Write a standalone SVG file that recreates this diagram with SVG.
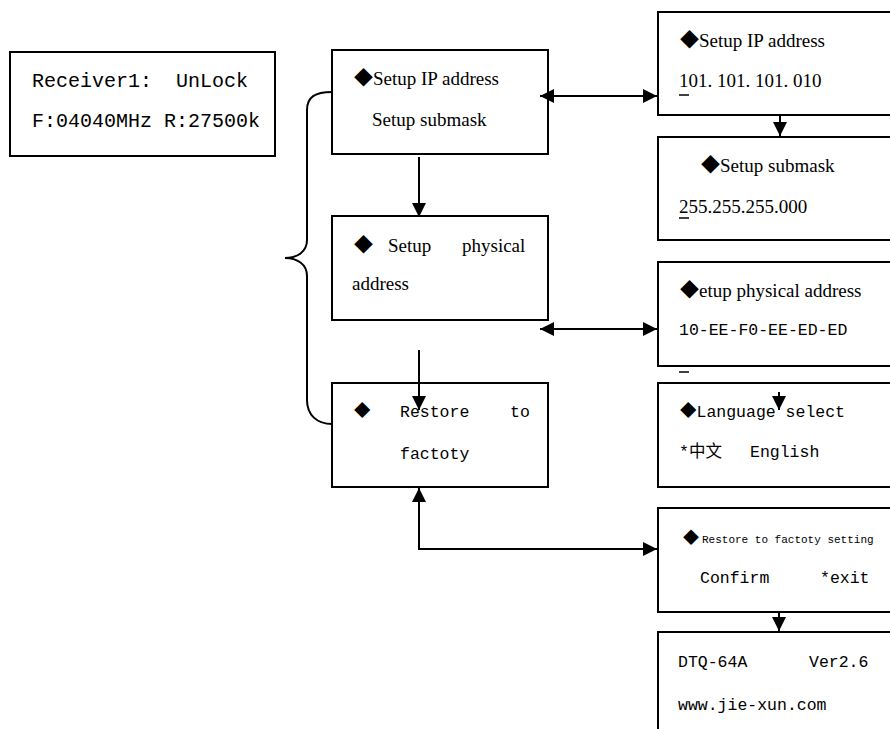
<svg xmlns="http://www.w3.org/2000/svg" width="890" height="729" viewBox="0 0 890 729">
<style>
.box{fill:#fff;stroke:#000;stroke-width:2}
.serif{font-family:"Liberation Serif","Noto Sans CJK SC",serif;font-size:19px;fill:#000}
.mono{font-family:"Liberation Mono","Noto Sans CJK SC",monospace;font-size:16.5px;fill:#000}
.big{font-size:20px}
.small{font-size:11px}
.ln{fill:none;stroke:#000;stroke-width:2}
.cur{stroke:#000;stroke-width:1.5}
</style>
<defs>
<marker id="arr" viewBox="0 0 14 14" refX="14" refY="7" markerWidth="14" markerHeight="14" markerUnits="userSpaceOnUse" orient="auto-start-reverse">
<path d="M0,0 L14,7 L0,14 z" fill="#000"/>
</marker>
</defs>
<rect width="890" height="729" fill="#fff"/>

<g id="receiver">
<rect class="box" x="10" y="52" width="265" height="104"/>
<text class="mono big" x="32" y="87" xml:space="preserve">Receiver1:  UnLock</text>
<text class="mono big" x="32" y="127">F:04040MHz R:27500k</text>
</g>

<g id="menu-ip">
<rect class="box" x="332" y="50" width="216" height="104"/>
<text class="serif" x="354" y="85">◆Setup IP address</text>
<text class="serif" x="372" y="126">Setup submask</text>
</g>

<g id="menu-physical">
<rect class="box" x="332" y="216" width="216" height="104"/>
<text class="serif" y="252"><tspan x="354">◆</tspan><tspan x="388">Setup</tspan><tspan x="462">physical</tspan></text>
<text class="serif" x="352" y="290">address</text>
</g>

<g id="menu-restore">
<rect class="box" x="332" y="383" width="216" height="104"/>
<text class="mono" y="417" font-size="17"><tspan x="354">◆</tspan><tspan x="400">Restore</tspan><tspan x="510">to</tspan></text>
<text class="mono" x="400" y="459" font-size="17">factoty</text>
</g>

<g id="screen-ip">
<rect class="box" x="658" y="12" width="240" height="103"/>
<text class="serif" x="680" y="47">◆Setup IP address</text>
<text class="serif" x="679" y="87">101. 101. 101. 010</text>
<line class="cur" x1="679" y1="95" x2="689" y2="95"/>
</g>

<g id="screen-submask">
<rect class="box" x="658" y="137" width="240" height="103"/>
<text class="serif" x="701" y="172">◆Setup submask</text>
<text class="serif" x="679" y="213">255.255.255.000</text>
<line class="cur" x1="679" y1="218" x2="689" y2="218"/>
</g>

<g id="screen-physical">
<rect class="box" x="658" y="262" width="240" height="104"/>
<text class="serif" x="680" y="297">◆etup physical address</text>
<text class="mono" x="679" y="335">10-EE-F0-EE-ED-ED</text>
<line class="cur" x1="679" y1="372" x2="689" y2="372"/>
</g>

<g id="screen-language">
<rect class="box" x="658" y="383" width="240" height="104"/>
<text class="mono" x="680" y="417">◆Language select</text>
<text class="mono" y="457"><tspan x="679">*中文</tspan><tspan x="750">English</tspan></text>
</g>

<g id="screen-restore">
<rect class="box" x="658" y="508" width="240" height="104"/>
<text class="mono small" y="543"><tspan x="683" font-size="16">◆</tspan><tspan x="702">Restore to factoty setting</tspan></text>
<text class="mono" y="583" font-size="17"><tspan x="700">Confirm</tspan><tspan x="820">*exit</tspan></text>
</g>

<g id="screen-version">
<rect class="box" x="658" y="632" width="240" height="110"/>
<text class="mono" y="667"><tspan x="678">DTQ-64A</tspan><tspan x="809">Ver2.6</tspan></text>
<text class="mono" x="678" y="710">www.jie-xun.com</text>
</g>

<g id="connectors">
<path class="ln" stroke-width="1.6" d="M332,92 C315,92 307,97 307,110 L307,240 C307,252 297,258 285,258 C297,258 307,264 307,276 L307,400 C307,415 317,424 332,424"/>
<line class="ln" x1="419" y1="157" x2="419" y2="217" marker-end="url(#arr)"/>
<line class="ln" x1="419" y1="350" x2="419" y2="410" marker-end="url(#arr)"/>
<line class="ln" x1="540" y1="96" x2="657" y2="96" marker-start="url(#arr)" marker-end="url(#arr)"/>
<line class="ln" x1="540" y1="329" x2="657" y2="329" marker-start="url(#arr)" marker-end="url(#arr)"/>
<path class="ln" d="M419,488 L419,549 L657,549" marker-start="url(#arr)" marker-end="url(#arr)"/>
<line class="ln" x1="780" y1="115" x2="780" y2="136" marker-end="url(#arr)"/>
<line class="ln" x1="779" y1="392" x2="779" y2="410" marker-end="url(#arr)"/>
<line class="ln" x1="779" y1="612" x2="779" y2="631" marker-end="url(#arr)"/>
</g>
</svg>
